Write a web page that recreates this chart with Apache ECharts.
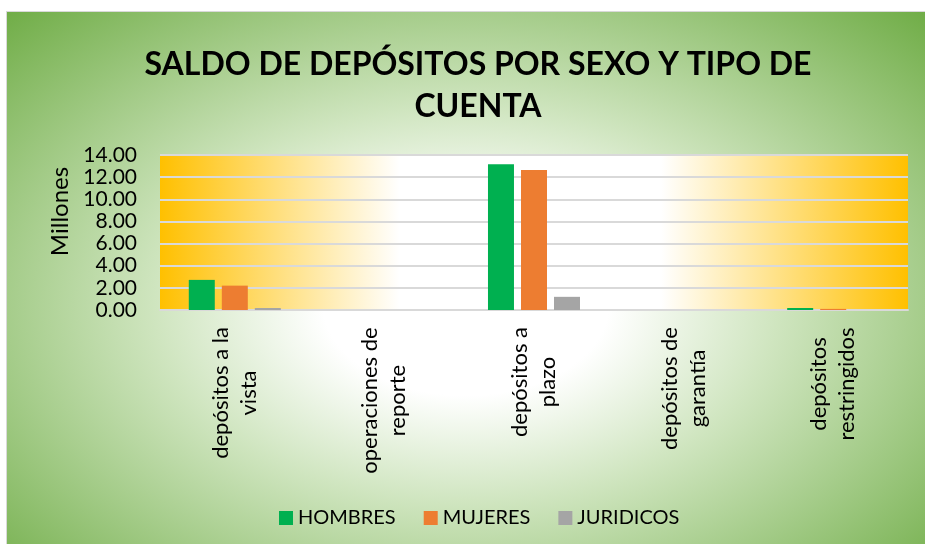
<!DOCTYPE html>
<html>
<head>
<meta charset="utf-8">
<script src="https://cdn.jsdelivr.net/npm/echarts@6/dist/echarts.min.js"></script>
<style>
  html, body { margin: 0; padding: 0; background: #ffffff; }
  #frame {
    position: absolute; left: 6px; top: 11px; width: 918px; height: 532px;
    border: 1px solid #d9d9d9;
    background: radial-gradient(ellipse farthest-corner at 50% 55%, #ffffff 0%, #ffffff 22%, #cfe5bf 48%, #70ad47 100%);
  }
  #chart { position: absolute; left: 0; top: 0; width: 925px; height: 544px; }
</style>
</head>
<body>
<div id="frame"></div>
<div id="chart"></div>
<script>
const categorias = [
  "depósitos a la\nvista",
  "operaciones de\nreporte",
  "depósitos a\nplazo",
  "depósitos de\ngarantía",
  "depósitos\nrestringidos"
];
// valores en millones
const hombres = [2.72, 0, 13.17, 0, 0.18];
const mujeres = [2.20, 0, 12.65, 0, 0.10];
const juridicos = [0.18, 0, 1.19, 0, 0];

const fuente = 'Lato, "Open Sans", sans-serif';
const labelSize = 22;

// medir cada linea para centrar las lineas dentro del bloque (como Excel)
let ctx = document.createElement('canvas').getContext('2d');
ctx.font = labelSize + 'px Lato';
let rich = {};
categorias.forEach((c, i) => {
  let w = Math.max(...c.split('\n').map(l => ctx.measureText(l).width));
  rich['c' + i] = { width: Math.ceil(w) + 2, align: 'center', fontSize: labelSize, fontFamily: fuente, color: '#000', lineHeight: 28 };
});

let chart = echarts.init(document.getElementById('chart'));
let option = {
  backgroundColor: 'transparent',
  title: {
    text: 'SALDO DE DEPÓSITOS POR SEXO Y TIPO DE\nCUENTA',
    left: 473,
    top: 39,
    textAlign: 'center',
    textStyle: { fontFamily: fuente, fontWeight: 'bold', fontSize: 32, lineHeight: 42, color: '#000' }
  },
  legend: {
    data: ['HOMBRES', 'MUJERES', 'JURIDICOS'],
    left: 274,
    top: 503,
    icon: 'rect',
    itemWidth: 14,
    itemHeight: 14,
    itemGap: 28,
    textStyle: { fontFamily: fuente, fontSize: 20, color: '#000' }
  },
  grid: {
    left: 160, right: 17, top: 155, height: 155,
    show: true,
    borderWidth: 0,
    backgroundColor: {
      type: 'linear', x: 0, y: 0, x2: 1, y2: 0,
      colorStops: [
        { offset: 0, color: '#ffc000' },
        { offset: 0.32, color: '#ffffff' },
        { offset: 0.67, color: '#ffffff' },
        { offset: 1, color: '#ffc000' }
      ]
    }
  },
  xAxis: {
    type: 'category',
    data: categorias,
    axisLine: { lineStyle: { color: '#d9d9d9', width: 2 } },
    axisTick: { show: false },
    axisLabel: {
      rotate: 90,
      margin: 16,
      interval: 0,
      fontSize: labelSize,
      fontFamily: fuente,
      color: '#000',
      lineHeight: 28,
      formatter: (v, i) => v.split('\n').map(l => '{c' + i + '|' + l + '}').join('\n'),
      rich: rich
    }
  },
  yAxis: {
    type: 'value',
    min: 0, max: 14, interval: 2,
    name: 'Millones',
    nameLocation: 'middle',
    nameRotate: 90,
    nameGap: 88,
    nameTextStyle: { fontFamily: fuente, fontSize: 24, color: '#000', padding: [0, 0, 0, 42] },
    axisLine: { show: false },
    axisTick: { show: false },
    splitLine: { lineStyle: { color: '#d9d9d9', width: 2 } },
    axisLabel: {
      margin: 23,
      formatter: v => v.toFixed(2),
      fontFamily: fuente, fontSize: 21, color: '#000'
    }
  },
  series: [
    { name: 'HOMBRES', type: 'bar', data: hombres, barWidth: 26, barGap: '27%', itemStyle: { color: '#00b050' } },
    { name: 'MUJERES', type: 'bar', data: mujeres, barWidth: 26, barGap: '27%', itemStyle: { color: '#ed7d31' } },
    { name: 'JURIDICOS', type: 'bar', data: juridicos, barWidth: 26, barGap: '27%', itemStyle: { color: '#a5a5a5' } }
  ]
};
chart.setOption(option);
</script>
</body>
</html>
